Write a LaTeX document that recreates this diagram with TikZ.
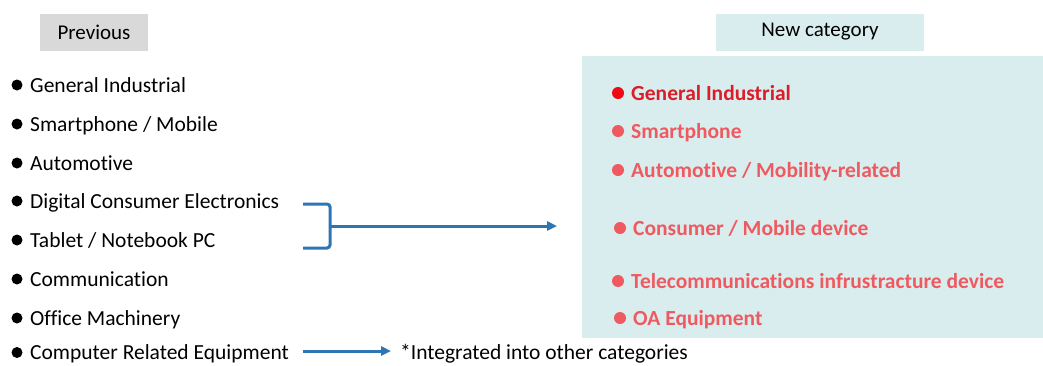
\documentclass[tikz,border=0pt]{standalone}
\usepackage{fontspec}
\setmainfont[Ligatures=NoCommon]{Carlito}
\usetikzlibrary{arrows.meta}
\definecolor{hdrgray}{HTML}{D9D9D9}
\definecolor{newbg}{HTML}{DAEDEE}
\definecolor{arrblue}{HTML}{2E75B6}
\definecolor{redA}{HTML}{D91E2A}
\definecolor{redAb}{HTML}{EE0A14}
\definecolor{redB}{HTML}{EE5A60}
\tikzset{
  x=1pt,y=-1pt,
  hdr/.style={minimum width=108pt,minimum height=37pt,inner sep=0pt,font=\fontsize{21}{24}\selectfont},
  olditem/.style={anchor=base west,inner sep=0pt,font=\fontsize{21.5}{25}\selectfont},
  newitem/.style={anchor=base west,inner sep=0pt,font=\fontsize{21.5}{25}\selectfont\bfseries,text=redB},
  dotblack/.style={circle,fill=black,inner sep=0pt,minimum size=11pt},
  dotred/.style={circle,fill=redB,inner sep=0pt,minimum size=12pt},
  conn/.style={draw=arrblue,line width=3pt},
  arr/.style={conn,-{Triangle[length=10pt,width=9pt]}}
}
\begin{document}
\begin{tikzpicture}
\useasboundingbox (0,0) rectangle (1043,365);
\fill[white] (0,0) rectangle (1043,365);
% headers
\node[hdr,fill=hdrgray] (prev) at (94,32) {Previous};
\node[hdr,fill=newbg,minimum width=208pt] (newh) at (820,32) {New category};
\fill[newbg] (582,56) rectangle (1043,338);
% old list
\foreach \y/\t/\n in {92/{General Industrial}/o1,131/{Smartphone / Mobile}/o2,170/{Automotive}/o3,208/{Digital Consumer Electronics}/o4,247/{Tablet / Notebook PC}/o5,286/{Communication}/o6,325/{Office Machinery}/o7,359.5/{Computer Related Equipment}/o8}{
  \node[dotblack] (\n b) at (17,\y-7) {};
  \node[olditem] (\n) at (30,\y) {\t};
}
% new list
\node[dotred,fill=redAb] (n1b) at (618,93) {};
\node[newitem,text=redA] (n1) at (631,100) {General Industrial};
\foreach \x/\y/\t/\n in {618/138/{Smartphone}/n2,618/177/{Automotive / Mobility-related}/n3,620/235/{Consumer / Mobile device}/n4,618/288/{Telecommunications infrustracture device}/n5,620/325/{OA Equipment}/n6}{
  \node[dotred] (\n b) at (\x,\y-7) {};
  \node[newitem] (\n) at (\x+13,\y) {\t};
}
% bracket and arrows
\coordinate (bt) at (303,204);
\coordinate (bb) at (303,248);
\coordinate (bm) at (330,226);
\coordinate (ae) at (557,226);
\draw[conn,rounded corners=3pt] (bt) -- (330,204) -- (330,248) -- (bb);
\draw[arr] (bm) -- (ae);
\node[olditem] (note) at (400,359.5) {*Integrated into other categories};
\coordinate (a2s) at (303,351);
\coordinate (a2e) at (391,351);
\draw[arr] (a2s) -- (a2e);
\end{tikzpicture}
\end{document}
